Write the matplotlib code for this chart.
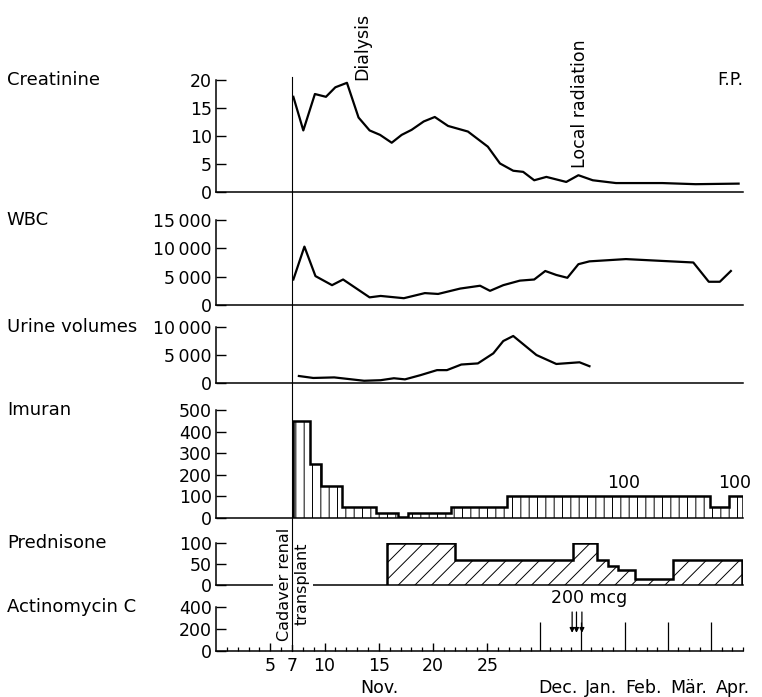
import matplotlib
matplotlib.use('Agg')
import matplotlib.pyplot as plt
import matplotlib.transforms as mtransforms
from matplotlib.lines import Line2D
import numpy as np

plt.rcParams['font.family'] = ['DejaVu Sans']
plt.rcParams['hatch.linewidth'] = 0.7
FS = 12.5

# x axis units: November days 0..30, then a compressed month scale
transplant_day = 7
x_max = 47.7
month_starts = [29.8, 33.6, 37.7, 41.6, 45.6]
month_names = ['Dec.', 'Jan.', 'Feb.', 'Mär.', 'Apr.']
month_label_x = [31.5, 35.5, 39.4, 43.5, 47.6]
day_labels = [5, 7, 10, 15, 20, 25]

creat_x = [7.0, 7.9, 8.95, 9.95, 10.8, 11.85, 12.9, 13.9, 14.85, 15.9, 16.8, 17.7, 18.8,
           19.8, 21.0, 22.8, 24.6, 25.7, 26.9, 27.8, 28.8, 29.9, 31.7, 32.8, 34.1, 36.2,
           40.4, 43.4, 47.3]
creat_y = [17.0, 11.0, 17.5, 17.0, 18.7, 19.5, 13.3, 11.0, 10.2, 8.8, 10.2, 11.1, 12.6,
           13.4, 11.8, 10.8, 8.1, 5.1, 3.8, 3.6, 2.1, 2.7, 1.8, 3.0, 2.1, 1.6,
           1.6, 1.4, 1.5]

wbc_x = [7.0, 8.0, 9.0, 10.5, 11.5, 13.9, 14.9, 17.0, 18.9, 20.1, 22.1, 23.9, 24.8, 26.0,
         27.5, 28.8, 29.8, 30.8, 31.8, 32.8, 33.8, 37.1, 43.2, 44.6, 45.6, 46.6]
wbc_y = [4500, 10300, 5100, 3500, 4500, 1350, 1600, 1200, 2100, 1950, 2900, 3400, 2500, 3500,
         4300, 4500, 6000, 5300, 4800, 7200, 7700, 8100, 7500, 4100, 4100, 6000]

urine_x = [7.5, 8.8, 10.7, 13.4, 14.9, 16.1, 17.1, 18.5, 20.0, 20.9, 22.2, 23.7, 25.1,
           26.0, 26.9, 29.0, 30.8, 32.9, 33.8]
urine_y = [1250, 900, 1000, 400, 500, 850, 650, 1400, 2300, 2300, 3300, 3500, 5300,
           7500, 8400, 5000, 3400, 3700, 3000]

imuran_edges = [7, 8.5, 9.5, 11.4, 14.5, 16.5, 17.4, 21.3, 26.3, 44.7, 46.4, 47.7]
imuran_dose = [450, 250, 150, 50, 25, 5, 25, 50, 100, 50, 100]

pred_edges = [15.5, 21.6, 32.3, 34.45, 35.5, 36.4, 37.9, 41.4, 47.6]
pred_dose = [100, 60, 100, 60, 45, 35, 15, 60]

actino_days = [32.8, 33.2, 33.7]

fig = plt.figure(figsize=(7.62, 6.97), dpi=100)
L, W = 0.2835, 0.6916
specs = [
    ('Creatinine', [0.7245, 0.1607], [0, 5, 10, 15, 20], ['0', '5', '10', '15', '20']),
    ('WBC', [0.5624, 0.1220], [0, 5000, 10000, 15000], ['0', '5\u2009000', '10\u2009000', '15\u2009000']),
    ('Urine volumes', [0.4505, 0.0803], [0, 5000, 10000], ['0', '5\u2009000', '10\u2009000']),
    ('Imuran', [0.2568, 0.1549], [0, 100, 200, 300, 400, 500], ['0', '100', '200', '300', '400', '500']),
    ('Prednisone', [0.1607, 0.0603], [0, 50, 100], ['0', '50', '100']),
    ('Actinomycin C', [0.0660, 0.0631], [0, 200, 400], ['0', '200', '400']),
]
axes = []
for name, (b, h), ticks, labels in specs:
    ax = fig.add_axes([L, b, W, h])
    ax.set_xlim(0, x_max)
    ax.set_ylim(0, ticks[-1])
    ax.set_yticks(ticks, labels)
    ax.tick_params(axis='y', direction='in', length=7, width=1, pad=3, labelsize=FS)
    ax.set_xticks([])
    for s in ['top', 'right']:
        ax.spines[s].set_visible(False)
    ax.spines['left'].set_linewidth(1.1)
    ax.spines['bottom'].set_linewidth(1.1)
    ax.patch.set_alpha(0)
    fig.text(0.009, b + h, name, fontsize=13, va='center', ha='left')
    axes.append(ax)

ax_cr, ax_wbc, ax_ur, ax_im, ax_pr, ax_ac = axes

ax_cr.plot(creat_x, creat_y, color='k', lw=1.6)
ax_wbc.plot(wbc_x, wbc_y, color='k', lw=1.6)
ax_ur.plot(urine_x, urine_y, color='k', lw=1.6)

ax_cr.text(13.2, 20, 'Dialysis', rotation=90, ha='center', va='bottom', fontsize=FS, clip_on=False)
ax_cr.text(32.9, 4.3, 'Local radiation', rotation=90, ha='center', va='bottom', fontsize=FS)
ax_cr.text(x_max, 20, 'F.P.', ha='right', va='center', fontsize=FS)

# Imuran: hatched steps
ax_im.stairs(imuran_dose, imuran_edges, baseline=0, fill=True, facecolor='none',
             edgecolor='k', hatch='||', lw=0)
ax_im.stairs(imuran_dose, imuran_edges, baseline=0, color='k', lw=1.8)
ax_im.text(36.9, 162, '100', ha='center', va='center', fontsize=FS)
ax_im.text(46.9, 162, '100', ha='center', va='center', fontsize=FS)

# Prednisone
ax_pr.stairs(pred_dose, pred_edges, baseline=0, fill=True, facecolor='none',
             edgecolor='k', hatch='//', lw=0)
ax_pr.stairs(pred_dose, pred_edges, baseline=0, color='k', lw=1.8)

# Actinomycin C and the time axis
ax_ac.vlines(month_starts, 0, 260, color='k', lw=0.9)
for d in actino_days:
    ax_ac.annotate('', xy=(d, 140), xytext=(d, 380),
                   arrowprops=dict(arrowstyle='-|>', color='k', lw=0.9, mutation_scale=7),
                   annotation_clip=False)
ax_ac.text(34.4, 480, '200 mcg', ha='center', va='center', fontsize=FS, clip_on=False)

minor = [d for d in range(1, 30) if d not in day_labels]
for m in month_starts:
    minor += [m + 0.98 * k for k in (1, 2, 3)]
ax_ac.set_xticks(day_labels, [str(d) for d in day_labels])
ax_ac.set_xticks(minor, minor=True)
ax_ac.tick_params(axis='x', which='major', direction='in', length=6, width=1, pad=4, labelsize=FS)
ax_ac.tick_params(axis='x', which='minor', direction='in', length=3, width=0.9)
for x, name in zip(month_label_x, month_names):
    ax_ac.annotate(name, xy=(x, 0), xycoords=('data', 'axes fraction'), xytext=(0, -27),
                   textcoords='offset points', ha='center', va='center', fontsize=FS,
                   annotation_clip=False)
ax_ac.annotate('Nov.', xy=(15, 0), xycoords=('data', 'axes fraction'), xytext=(0, -27),
               textcoords='offset points', ha='center', va='center', fontsize=FS)

# transplant marker across all panels
tr = mtransforms.blended_transform_factory(ax_ac.transData, fig.transFigure)
fig.add_artist(Line2D([transplant_day, transplant_day], [0.066, 0.889], transform=tr,
                      color='k', lw=0.8, zorder=6))
fig.text(0.3845, 0.162, 'Cadaver renal\ntransplant', rotation=90, ha='center', va='center',
         multialignment='center', fontsize=11.5, linespacing=1.2, zorder=5,
         bbox=dict(facecolor='white', edgecolor='none', pad=3))

fig.savefig('out.png', dpi=100)
